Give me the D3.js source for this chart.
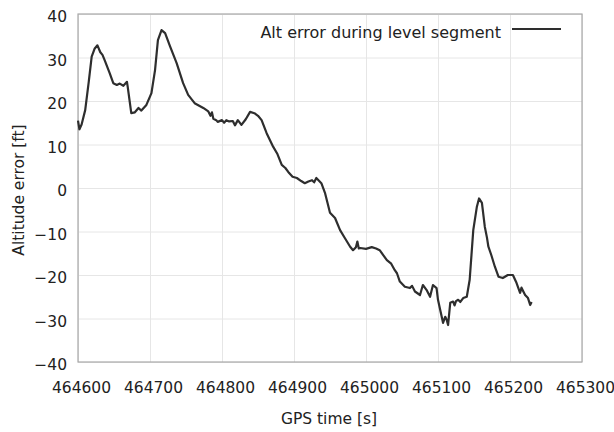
<html>
<head>
<meta charset="utf-8">
<title>Altitude error</title>
<script src="https://d3js.org/d3.v7.min.js"></script>
<style>
  body { margin: 0; background: #fff; }
  text { font-family: "DejaVu Sans", Verdana, sans-serif; fill: #222; }
</style>
</head>
<body>
<svg width="614" height="432"></svg>
<script>
// GPS time [s] of the traced samples
var gpsTime = [
  464600, 464602, 464605, 464610, 464615, 464619, 464623, 464627, 464631, 464634,
  464637, 464644, 464649, 464654, 464658, 464663, 464668, 464669, 464674, 464679,
  464684, 464688, 464695, 464702, 464707, 464711, 464716, 464721, 464728, 464737,
  464746, 464753, 464762, 464774, 464781, 464784, 464786, 464788, 464792, 464794,
  464800, 464803, 464806, 464810, 464815, 464818, 464822, 464827, 464833, 464839,
  464845, 464850, 464855, 464862, 464871, 464877, 464883, 464888, 464892, 464898,
  464904, 464910, 464915, 464920, 464925, 464928, 464931, 464938, 464943, 464950,
  464957, 464964, 464971, 464978, 464982, 464986, 464988, 464990, 464992, 465000,
  465008, 465014, 465019, 465029, 465035, 465040, 465043, 465047, 465054, 465061,
  465064, 465068, 465075, 465079, 465084, 465089, 465093, 465098, 465100, 465103,
  465107, 465110, 465112, 465114, 465117, 465121, 465123, 465125, 465128, 465131,
  465135, 465140, 465144, 465149, 465154, 465157, 465161, 465165, 465168, 465170,
  465174, 465179, 465184, 465190, 465197, 465204, 465209, 465214, 465216, 465218,
  465221, 465225, 465228, 465230
];
// altitude error [ft]
var altError = [
  15.5, 13.5, 14.6, 17.9, 24.5, 30.2, 32.0, 32.8, 31.2, 30.6,
  29.4, 26.4, 24.1, 23.7, 24.0, 23.5, 24.4, 23.3, 17.2, 17.4,
  18.4, 17.8, 19.1, 21.8, 27.1, 34.0, 36.3, 35.6, 32.5, 28.7,
  24.1, 21.4, 19.5, 18.4, 17.6, 16.6, 17.4, 15.9, 15.6, 15.2,
  15.6, 15.0, 15.6, 15.3, 15.4, 14.4, 15.6, 14.5, 15.8, 17.5,
  17.2, 16.6, 15.6, 12.6, 9.5, 7.8, 5.3, 4.6, 3.7, 2.6,
  2.3, 1.6, 1.1, 1.5, 1.8, 1.3, 2.3, 1.1, -1.1, -5.7,
  -6.9, -9.7, -11.6, -13.5, -14.3, -13.6, -12.3, -13.9, -13.8, -14.0,
  -13.6, -13.9, -14.3, -16.6, -17.4, -18.9, -19.6, -21.5, -22.7, -23.0,
  -22.5, -23.8, -24.6, -22.3, -23.4, -25.0, -22.3, -23.0, -25.7, -28.0,
  -31.0, -29.6, -30.3, -31.5, -26.4, -26.1, -27.0, -26.0, -25.7, -26.2,
  -25.3, -25.0, -21.1, -9.7, -4.3, -2.4, -3.4, -8.9, -11.4, -13.5,
  -15.4, -18.1, -20.4, -20.7, -20.0, -20.0, -21.8, -24.1, -22.9, -23.6,
  -24.6, -25.3, -26.9, -26.2
];
var xTicks = [464600, 464700, 464800, 464900, 465000, 465100, 465200, 465300];
var yTicks = [-40, -30, -20, -10, 0, 10, 20, 30, 40];

var svg = d3.select("svg"),
    plotL = 78, plotR = 582, plotT = 14, plotB = 362;

var x = d3.scaleLinear().domain([464600, 465300]).range([plotL, plotR]),
    y = d3.scaleLinear().domain([-40, 40]).range([plotB, plotT]);

var data = gpsTime.map((t, i) => ({t: t, v: altError[i]}));

// grid
svg.append("g")
  .attr("transform", `translate(0,${plotB})`)
  .call(d3.axisBottom(x).tickValues(xTicks).tickSize(-(plotB - plotT)).tickFormat(""))
  .call(g => g.select(".domain").remove())
  .selectAll("line").attr("stroke", "#e6e6e6");
svg.append("g")
  .attr("transform", `translate(${plotL},0)`)
  .call(d3.axisLeft(y).tickValues(yTicks).tickSize(-(plotR - plotL)).tickFormat(""))
  .call(g => g.select(".domain").remove())
  .selectAll("line").attr("stroke", "#e6e6e6");

// frame
svg.append("rect")
  .attr("x", plotL).attr("y", plotT)
  .attr("width", plotR - plotL).attr("height", plotB - plotT)
  .attr("fill", "none").attr("stroke", "#a8a8a8").attr("stroke-width", 1.2);

// tick labels
var xa = svg.append("g")
  .attr("transform", `translate(0,${plotB})`)
  .call(d3.axisBottom(x).tickValues(xTicks).tickSize(0).tickPadding(0).tickFormat(d3.format("d")));
xa.select(".domain").remove();
xa.selectAll("text")
  .attr("x", 3).attr("y", 31).attr("dy", 0)
  .style("font-size", "15.5px").style("font-family", "DejaVu Sans").attr("fill", "#222");

var ya = svg.append("g")
  .attr("transform", `translate(${plotL},0)`)
  .call(d3.axisLeft(y).tickValues(yTicks).tickSize(0).tickPadding(0));
ya.select(".domain").remove();
ya.selectAll("text")
  .attr("x", -11).attr("dy", "0.62em").attr("y", -2)
  .style("font-size", "15.5px").style("font-family", "DejaVu Sans").attr("fill", "#222");

// the trace
svg.append("path")
  .datum(data)
  .attr("fill", "none")
  .attr("stroke", "#2e2e2e")
  .attr("stroke-width", 2.2)
  .attr("stroke-linejoin", "round")
  .attr("d", d3.line().x(d => x(d.t)).y(d => y(d.v)));

// axis titles
svg.append("text")
  .attr("x", (plotL + plotR) / 2 - 1).attr("y", 424)
  .attr("text-anchor", "middle")
  .style("font-size", "15.5px")
  .text("GPS time [s]");
svg.append("text")
  .attr("transform", "translate(24,190) rotate(-90)")
  .attr("text-anchor", "middle")
  .style("font-size", "15.5px")
  .text("Altitude error [ft]");

// legend
svg.append("text")
  .attr("x", 501).attr("y", 38)
  .attr("text-anchor", "end")
  .style("font-size", "16px")
  .text("Alt error during level segment");
svg.append("line")
  .attr("x1", 512).attr("x2", 561)
  .attr("y1", 29).attr("y2", 29)
  .attr("stroke", "#2e2e2e").attr("stroke-width", 2);
</script>
</body>
</html>
